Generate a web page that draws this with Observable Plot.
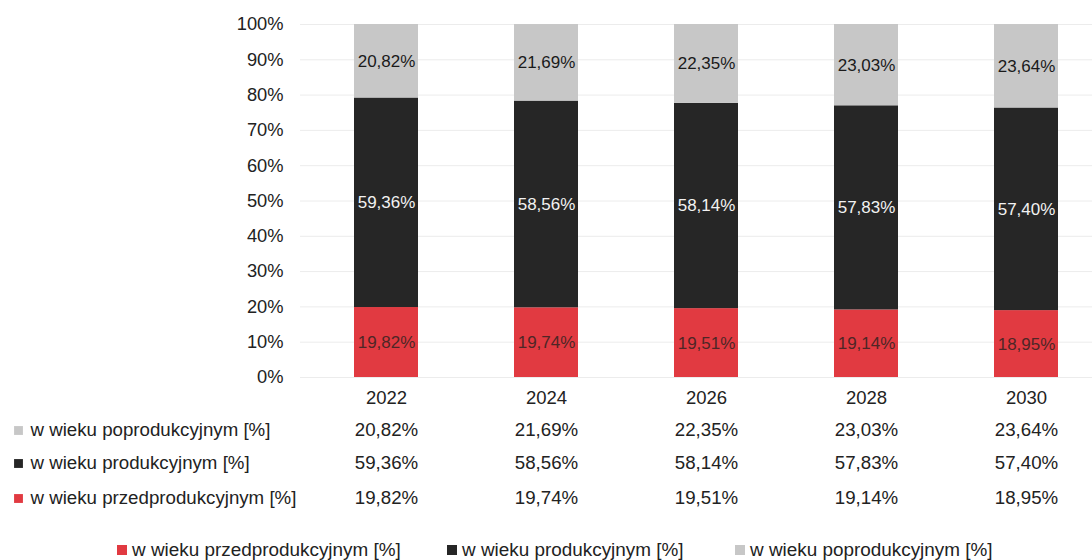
<!DOCTYPE html>
<html><head><meta charset="utf-8">
<script src="https://cdn.jsdelivr.net/npm/d3@7"></script>
<script src="https://cdn.jsdelivr.net/npm/@observablehq/plot@0.6"></script>
<style>
body{margin:0;background:#fff;font-family:"Liberation Sans Narrow","Arial Narrow","Liberation Sans",sans-serif;}
#legend{position:relative;height:30px;font-size:18.9px;color:#222;}
.item{position:absolute;top:9px;line-height:22px;white-space:nowrap;}
.sw{display:inline-block;width:10px;height:10px;margin-right:5px;vertical-align:1px;}
</style></head>
<body>
<div id="chart"></div>
<div id="legend"></div>
<script>
const years = ["2022","2024","2026","2028","2030"];
const seriesNames = ["w wieku przedprodukcyjnym [%]","w wieku produkcyjnym [%]","w wieku poprodukcyjnym [%]"];
const przed = [19.82,19.74,19.51,19.14,18.95];
const prod = [59.36,58.56,58.14,57.83,57.40];
const popr = [20.82,21.69,22.35,23.03,23.64];
const colors = ["#e13a41","#262626","#c7c7c7"];
const labelColors = ["#4e2626","#f2f2f2","#1a1a1a"];
const yTicks = [0,0.1,0.2,0.3,0.4,0.5,0.6,0.7,0.8,0.9,1];

const values = [przed, prod, popr];
const data = [];
years.forEach((yr,i)=>{
  let base = 0;
  seriesNames.forEach((s,k)=>{
    const v = values[k][i];
    data.push({year:yr, series:s, k, value:v/100, y1:base, y2:base+v/100, label:v.toFixed(2).replace(".",",")+"%"});
    base += v/100;
  });
});
const rowOrder = [2,1,0];
const rowDy = [53,86,121];
const tableData = [];
rowOrder.forEach((k,r)=>{
  years.forEach((yr,i)=>{
    tableData.push({year:yr, r, label:values[k][i].toFixed(2).replace(".",",")+"%"});
  });
});
const font = '"Liberation Sans Narrow","Arial Narrow","Liberation Sans",sans-serif';

const chart = Plot.plot({
  width:1092, height:530,
  marginLeft:300, marginRight:-15, marginTop:24, marginBottom:153,
  style:{fontFamily:font, fontSize:"18px", color:"#222", background:"#fff"},
  x:{type:"band", domain:years, range:[305,1107], paddingInner:0.6, paddingOuter:0.3, axis:null},
  y:{domain:[0,1], axis:null},
  color:{domain:seriesNames, range:colors},
  marks:[
    Plot.gridY(yTicks,{stroke:"#ececec", strokeOpacity:1, strokeWidth:1}),
    Plot.axisY(yTicks,{tickSize:0, tickPadding:17, tickFormat:d=>Math.round(d*100)+"%", fontSize:18.3, fill:"#222", label:null}),
    Plot.barY(data,{x:"year", y1:"y1", y2:"y2", fill:"series"}),
    ...[0,1,2].map(k=>Plot.text(data.filter(d=>d.k===k),{x:"year", y:d=>(d.y1+d.y2)/2, text:"label", fill:labelColors[k], fontSize:17})),
    Plot.axisX(years,{tickSize:0, tickPadding:13, fontSize:18.5, fill:"#222", label:null}),
    ...[0,1,2].map(r=>Plot.text(tableData.filter(d=>d.r===r),{x:"year", y:()=>0, dy:rowDy[r], text:"label", fontSize:18.7, fill:"#222"})),
    ...[0,1,2].map(r=>Plot.text([seriesNames[rowOrder[r]]],{frameAnchor:"left", y:()=>0, dy:rowDy[r], dx:-270, text:d=>d, textAnchor:"start", fontSize:18.7, fill:"#222"})),
    ...[0,1,2].map(r=>Plot.dot([0],{frameAnchor:"left", y:()=>0, dy:rowDy[r], dx:-282, symbol:"square", r:5, fill:colors[rowOrder[r]]}))
  ]
});
document.getElementById("chart").appendChild(chart);

const legX = [117,447,735];
const leg = document.getElementById("legend");
seriesNames.forEach((s,k)=>{
  const it = document.createElement("div");
  it.className="item"; it.style.left=legX[k]+"px";
  it.innerHTML = `<span class="sw" style="background:${colors[k]}"></span>${s}`;
  leg.appendChild(it);
});
</script>
</body></html>
